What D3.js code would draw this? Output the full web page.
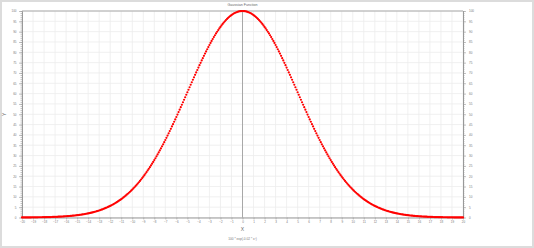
<!DOCTYPE html>
<html>
<head>
<meta charset="utf-8">
<script src="https://cdn.jsdelivr.net/npm/d3@7"></script>
<style>
  body { margin: 0; background: #fff; }
  text { font-family: "Liberation Sans", Arial, sans-serif; }
</style>
</head>
<body>
<div id="chart"></div>
<script>
// chart size
var svgWidth = 534;
var svgHeight = 248;

var margin = { top: 11, right: 71, bottom: 30.5, left: 22 };
var width = svgWidth - margin.left - margin.right;
var height = svgHeight - margin.top - margin.bottom;

// data: y values for x = 0, 0.1, ... 20 (curve is symmetric)
var halfX = d3.range(0, 201).map(i => i / 10);
var halfY = [
  100, 99.98, 99.92, 99.82, 99.68, 99.50, 99.28, 99.02, 98.73, 98.39,
  98.02, 97.61, 97.16, 96.68, 96.16, 95.60, 95.01, 94.38, 93.73, 93.03,
  92.31, 91.56, 90.77, 89.96, 89.12, 88.25, 87.35, 86.43, 85.49, 84.52,
  83.53, 82.51, 81.48, 80.43, 79.36, 78.27, 77.17, 76.05, 74.92, 73.77,
  72.61, 71.44, 70.27, 69.09, 67.90, 66.70, 65.50, 64.29, 63.08, 61.87,
  60.65, 59.44, 58.23, 57.02, 55.81, 54.61, 53.41, 52.21, 51.03, 49.85,
  48.68, 47.51, 46.36, 45.21, 44.08, 42.96, 41.85, 40.75, 39.66, 38.59,
  37.53, 36.49, 35.46, 34.45, 33.45, 32.47, 31.50, 30.55, 29.62, 28.70,
  27.80, 26.92, 26.06, 25.21, 24.39, 23.57, 22.78, 22.01, 21.25, 20.51,
  19.79, 19.09, 18.40, 17.73, 17.08, 16.45, 15.83, 15.23, 14.65, 14.08,
  13.53, 13.00, 12.48, 11.98, 11.50, 11.03, 10.57, 10.13, 9.70, 9.29,
  8.89, 8.51, 8.14, 7.78, 7.43, 7.10, 6.78, 6.47, 6.17, 5.89,
  5.61, 5.35, 5.10, 4.85, 4.62, 4.39, 4.18, 3.97, 3.77, 3.59,
  3.40, 3.23, 3.07, 2.91, 2.76, 2.61, 2.47, 2.34, 2.22, 2.10,
  1.98, 1.88, 1.77, 1.67, 1.58, 1.49, 1.41, 1.33, 1.25, 1.18,
  1.11, 1.05, 0.98, 0.93, 0.87, 0.82, 0.77, 0.72, 0.68, 0.64,
  0.60, 0.56, 0.53, 0.49, 0.46, 0.43, 0.40, 0.38, 0.35, 0.33,
  0.31, 0.29, 0.27, 0.25, 0.23, 0.22, 0.20, 0.19, 0.18, 0.16,
  0.15, 0.14, 0.13, 0.12, 0.11, 0.11, 0.10, 0.09, 0.09, 0.08,
  0.07, 0.07, 0.06, 0.06, 0.05, 0.05, 0.05, 0.04, 0.04, 0.04,
  0.03
];
var xTicks = d3.range(-20, 21);
var yTicks = d3.range(0, 101, 5);
var yMinorTicks = d3.range(0, 101, 1);
var titleText = "Gaussian Function";
var subtitleText = "100 * exp(-0.02 * x²)";

// mirror the half curve into the full series
var points = [];
for (var i = halfX.length - 1; i > 0; i--) points.push({ x: -halfX[i], y: halfY[i] });
for (var j = 0; j < halfX.length; j++) points.push({ x: halfX[j], y: halfY[j] });

var svg = d3.select("#chart")
  .append("svg")
  .attr("width", svgWidth)
  .attr("height", svgHeight);

// outer frame
svg.append("rect")
  .attr("x", 1).attr("y", 1)
  .attr("width", svgWidth - 2).attr("height", svgHeight - 2)
  .attr("fill", "#fff")
  .attr("stroke", "#dcdcdc")
  .attr("stroke-width", 2);

var chartGroup = svg.append("g")
  .attr("transform", `translate(${margin.left}, ${margin.top})`);

// scales
var xScale = d3.scaleLinear().domain([-20, 20]).range([0, width]);
var yScale = d3.scaleLinear().domain([0, 100]).range([height, 0]);

// grid
chartGroup.append("g")
  .selectAll("line")
  .data(xTicks)
  .enter()
  .append("line")
  .attr("x1", d => xScale(d)).attr("x2", d => xScale(d))
  .attr("y1", 0).attr("y2", height)
  .attr("stroke", "#ececec")
  .attr("stroke-width", 0.8);

chartGroup.append("g")
  .selectAll("line")
  .data(yTicks)
  .enter()
  .append("line")
  .attr("x1", 0).attr("x2", width)
  .attr("y1", d => yScale(d)).attr("y2", d => yScale(d))
  .attr("stroke", "#ececec")
  .attr("stroke-width", 0.8);

// top border and zero line
chartGroup.append("line")
  .attr("x1", 0).attr("x2", width)
  .attr("y1", 0).attr("y2", 0)
  .attr("stroke", "#aaa");

chartGroup.append("line")
  .attr("x1", xScale(0)).attr("x2", xScale(0))
  .attr("y1", 0).attr("y2", height)
  .attr("stroke", "#a8a8a8")
  .attr("stroke-width", 1);

// axes
function styleAxis(g) {
  g.select(".domain").attr("stroke", "#999");
  g.selectAll(".tick line").attr("stroke", "#999").attr("stroke-width", 0.6);
  g.selectAll(".tick text").attr("fill", "#777").attr("font-size", 3);
}

var bottomAxis = d3.axisBottom(xScale).tickValues(xTicks).tickSize(2).tickPadding(1.5).tickSizeOuter(0);
chartGroup.append("g")
  .attr("transform", `translate(0, ${height})`)
  .call(bottomAxis)
  .call(styleAxis);

var leftAxis = d3.axisLeft(yScale).tickValues(yTicks).tickSize(3).tickPadding(2.5).tickSizeOuter(0);
chartGroup.append("g").call(leftAxis).call(styleAxis);
chartGroup.append("g")
  .call(d3.axisLeft(yScale).tickValues(yMinorTicks).tickSize(1.5).tickFormat("").tickSizeOuter(0))
  .call(styleAxis);

var rightAxis = d3.axisRight(yScale).tickValues(yTicks).tickSize(3).tickPadding(3).tickSizeOuter(0);
chartGroup.append("g")
  .attr("transform", `translate(${width}, 0)`)
  .call(rightAxis)
  .call(styleAxis);
chartGroup.append("g")
  .attr("transform", `translate(${width}, 0)`)
  .call(d3.axisRight(yScale).tickValues(yMinorTicks).tickSize(1.5).tickFormat("").tickSizeOuter(0))
  .call(styleAxis);

// dots
chartGroup.append("g")
  .selectAll("circle")
  .data(points)
  .enter()
  .append("circle")
  .attr("cx", d => xScale(d.x))
  .attr("cy", d => yScale(d.y))
  .attr("r", 1.1)
  .attr("fill", "#ff0000");

// titles
svg.append("text")
  .attr("x", margin.left + width / 2).attr("y", 6)
  .attr("text-anchor", "middle")
  .attr("font-size", 3.6)
  .attr("fill", "#666")
  .text(titleText);

svg.append("text")
  .attr("x", margin.left + width / 2).attr("y", 231)
  .attr("text-anchor", "middle")
  .attr("font-size", 5)
  .attr("fill", "#666")
  .text("X");

svg.append("text")
  .attr("x", margin.left + width / 2).attr("y", 239.5)
  .attr("text-anchor", "middle")
  .attr("font-size", 3.2)
  .attr("fill", "#777")
  .text(subtitleText);

svg.append("text")
  .attr("transform", `translate(6, ${margin.top + height / 2}) rotate(-90)`)
  .attr("text-anchor", "middle")
  .attr("font-size", 5)
  .attr("fill", "#666")
  .text("Y");
</script>
</body>
</html>
